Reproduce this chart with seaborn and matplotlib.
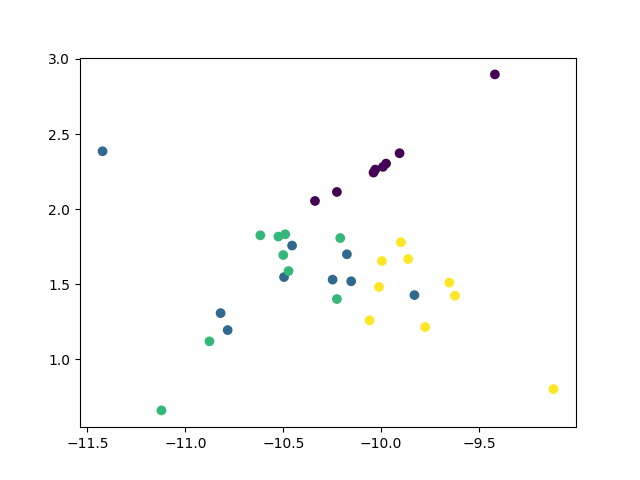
import numpy as np
import matplotlib
matplotlib.use("Agg")
import matplotlib.pyplot as plt
import seaborn as sns

# cluster 0 (purple)
x0 = [-9.419, -9.906, -9.975, -9.991, -10.030, -10.039, -10.226, -10.338]
y0 = [2.897, 2.372, 2.303, 2.281, 2.263, 2.243, 2.114, 2.054]

# cluster 1 (blue)
x1 = [-11.423, -10.820, -10.784, -10.455, -10.175, -10.496, -10.248, -10.153, -9.830]
y1 = [2.385, 1.307, 1.194, 1.757, 1.699, 1.547, 1.530, 1.519, 1.427]

# cluster 2 (green)
x2 = [-10.617, -10.525, -10.490, -10.209, -10.500, -10.473, -10.226, -10.877, -11.122]
y2 = [1.825, 1.817, 1.832, 1.807, 1.694, 1.587, 1.401, 1.119, 0.659]

# cluster 3 (yellow)
x3 = [-9.899, -9.996, -9.862, -10.011, -9.652, -9.623, -10.059, -9.775, -9.120]
y3 = [1.779, 1.654, 1.667, 1.481, 1.510, 1.423, 1.259, 1.214, 0.801]

xs = np.array(x0 + x1 + x2 + x3)
ys = np.array(y0 + y1 + y2 + y3)
labels = np.array([0] * len(x0) + [1] * len(x1) + [2] * len(x2) + [3] * len(x3))

fig, ax = plt.subplots(figsize=(6.4, 4.8), dpi=100)
sns.scatterplot(x=xs, y=ys, hue=labels, palette="viridis", s=36,
                linewidth=1, edgecolor="face", legend=False, ax=ax)
ax.set_xlabel("")
ax.set_ylabel("")

fig.savefig("out.png")
